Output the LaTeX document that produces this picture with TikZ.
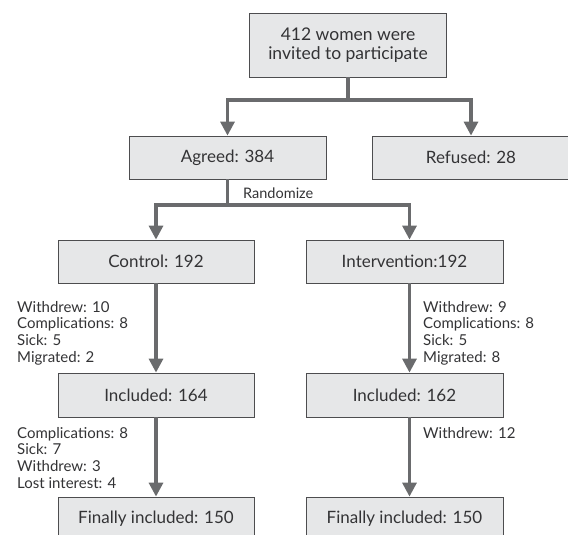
\documentclass[tikz,border=0pt]{standalone}
\usepackage{fontspec}
\setmainfont{Lato}
\usetikzlibrary{arrows.meta}
\definecolor{boxfill}{HTML}{E6E7E8}
\definecolor{boxline}{HTML}{4D4D4F}
\definecolor{arrgray}{HTML}{6A6B6D}
\definecolor{txt}{HTML}{333335}
\begin{document}
\begin{tikzpicture}[x=1pt,y=-1pt,
  box/.style={draw=boxline, fill=boxfill, line width=0.8pt, minimum width=197pt,
    minimum height=43pt, inner sep=0pt, text=txt, font=\fontsize{17}{19}\selectfont},
  arr/.style={draw=arrgray, line width=3.2pt, -{Triangle[length=14pt,width=14pt]}},
  ln/.style={draw=arrgray, line width=3.2pt},
  note/.style={anchor=north west, align=left, inner sep=0pt, text=txt,
    font=\fontsize{15}{16.6}\selectfont}]
\useasboundingbox (0,0) rectangle (568,535);
\clip (0,0) rectangle (568,535);

\node[box, minimum height=64pt, align=center, font=\fontsize{17.5}{19}\selectfont] (top) at (348,45) {412 women were\\invited to participate};
\node[box] (agreed) at (227.5,157.5) {Agreed: 384};
\node[box] (refused) at (471,157.5) {Refused: 28};
\node[box, minimum width=196pt] (control) at (156,261.5) {Control: 192};
\node[box] (interv) at (404.5,261.5) {Intervention:192};
\node[box, minimum width=196pt, minimum height=44pt] (inc1) at (156,395) {Included: 164};
\node[box, minimum height=44pt] (inc2) at (404.5,395) {Included: 162};
\node[box, minimum width=196pt] (fin1) at (156,518.5) {Finally included: 150};
\node[box] (fin2) at (404.5,518.5) {Finally included: 150};

\coordinate (split1) at (348,100);
\coordinate (split2) at (227.5,205);

\draw[ln] (top.south) -- (split1);
\draw[arr] (split1) -| (agreed.north);
\draw[arr] (split1) -| (refused.north);
\draw[ln] (agreed.south) -- (split2);
\draw[arr] (split2) -| (control.north);
\draw[arr] (split2) -| ([xshift=5pt]interv.north);
\draw[arr] (control.south) -- (inc1.north);
\draw[arr] ([xshift=5pt]interv.south) -- ([xshift=5pt]inc2.north);
\draw[arr] (inc1.south) -- (fin1.north);
\draw[arr] ([xshift=5pt]inc2.south) -- ([xshift=5pt]fin2.north);

\node[anchor=base west, inner sep=0pt, text=txt, font=\fontsize{14.5}{16}\selectfont] (rand) at (243,198) {Randomize};
\node[note] (n1) at (17,301) {Withdrew: 10\\Complications: 8\\Sick: 5\\Migrated: 2};
\node[note] (n2) at (423,301) {Withdrew: 9\\Complications: 8\\Sick: 5\\Migrated: 8};
\node[note] (n3) at (17,427) {Complications: 8\\Sick: 7\\Withdrew: 3\\Lost interest: 4};
\node[note] (n4) at (423,427) {Withdrew: 12};
\end{tikzpicture}
\end{document}
